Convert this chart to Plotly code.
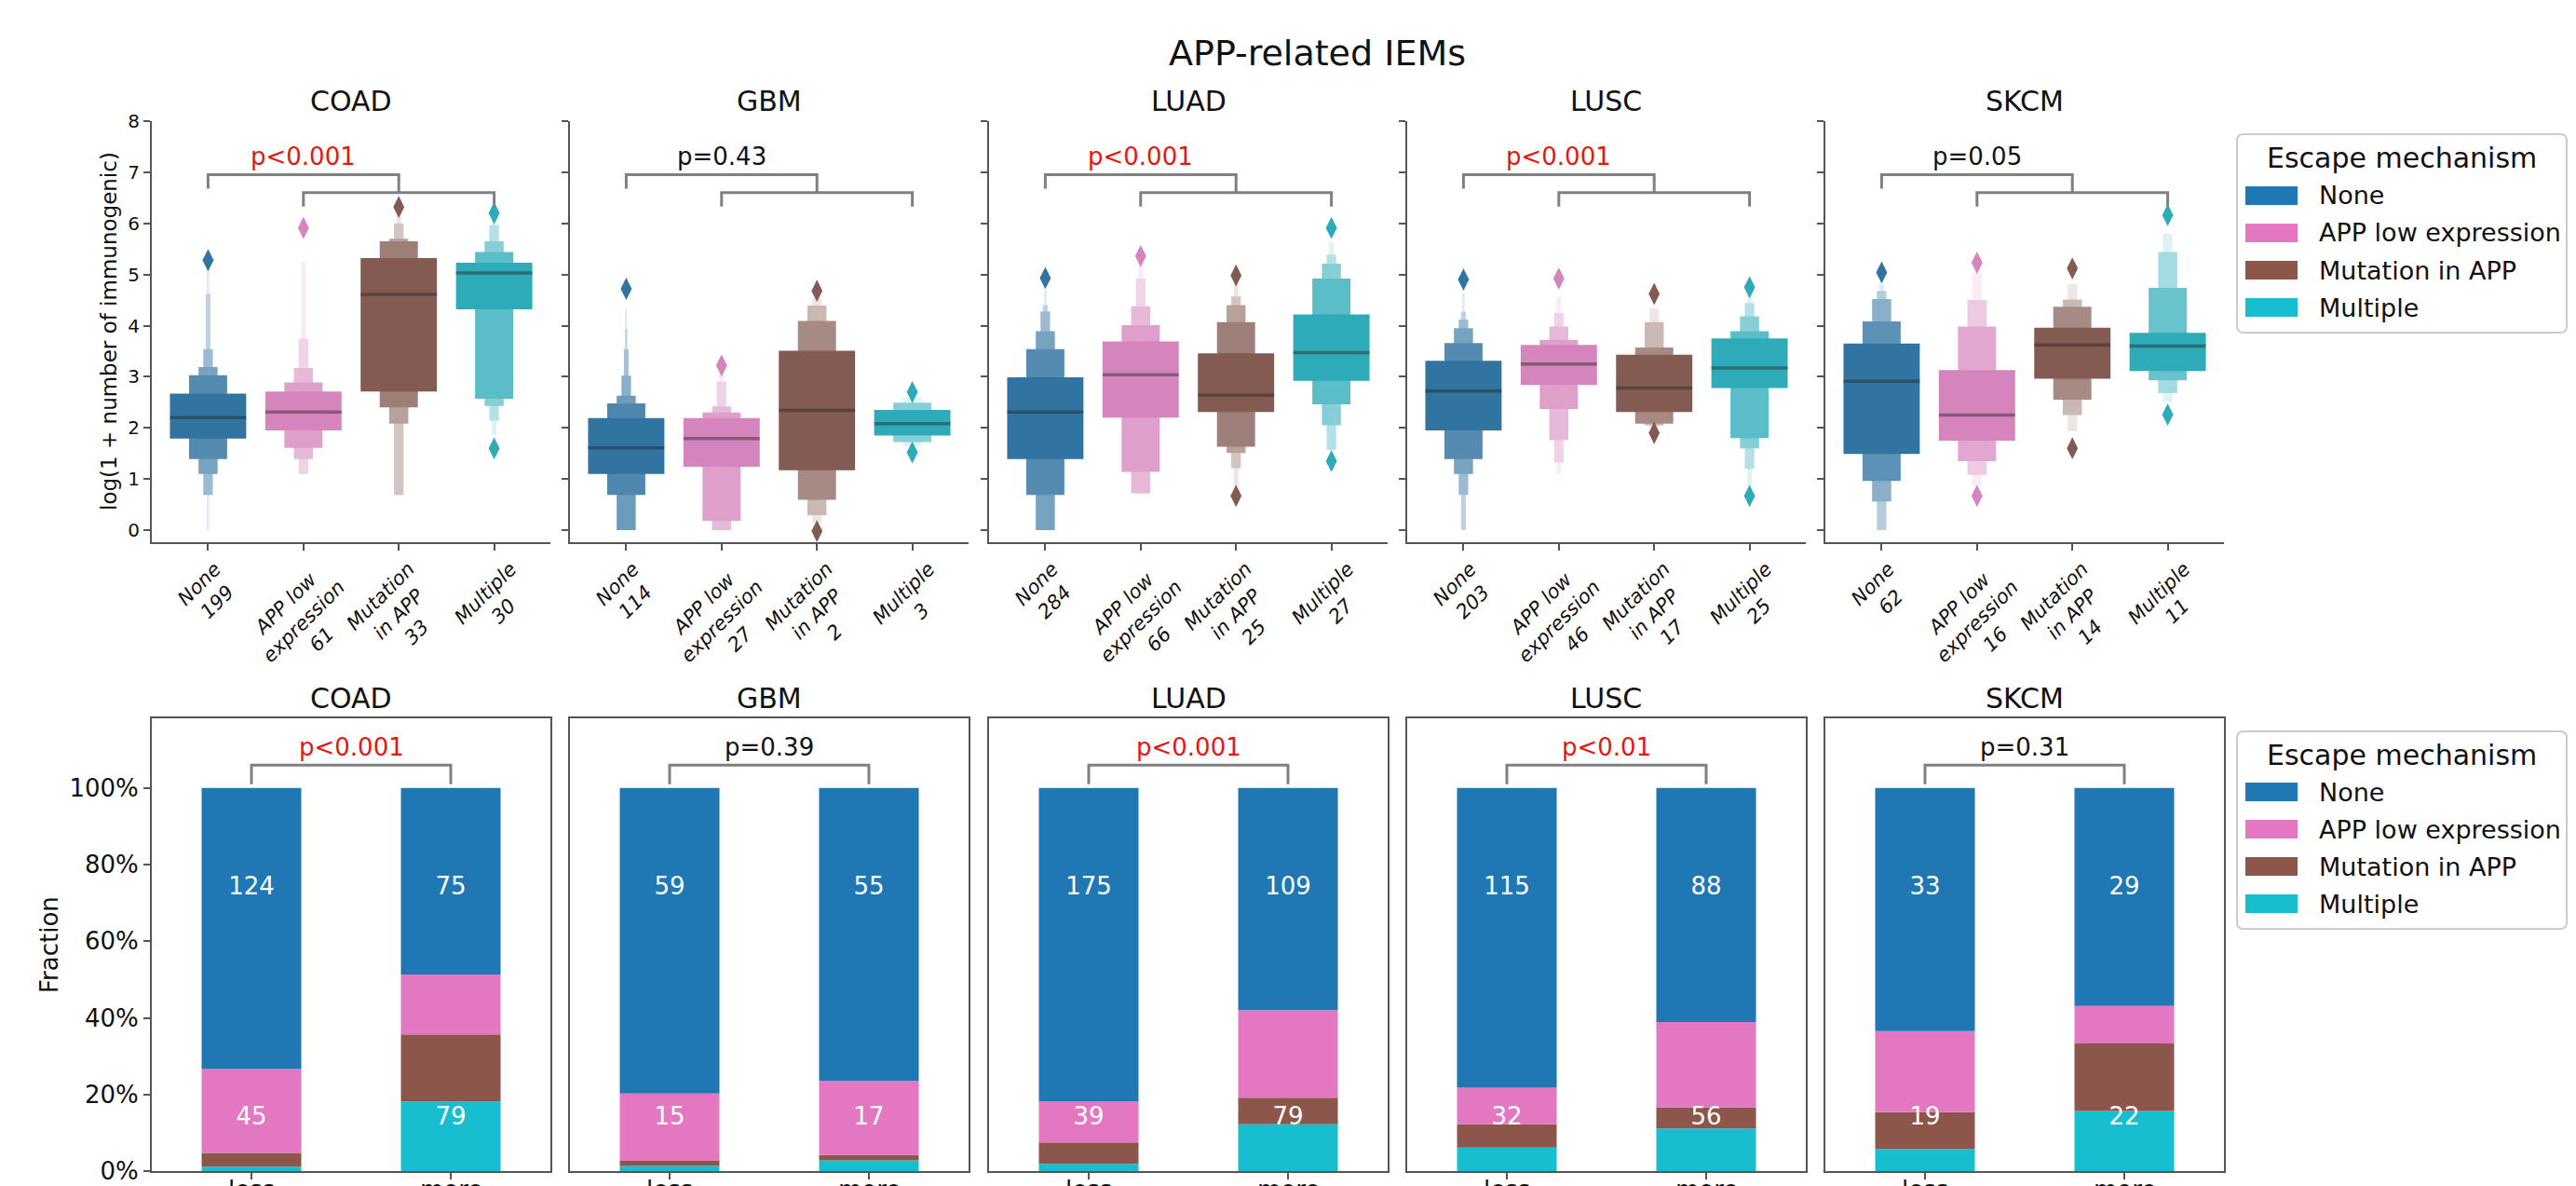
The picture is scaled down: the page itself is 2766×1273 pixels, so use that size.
import colorsys
import plotly.graph_objects as go

W, H = 2766, 1273

# ---------------- data ----------------
cancers = ["COAD", "GBM", "LUAD", "LUSC", "SKCM"]
mechanisms = ["None", "APP low expression", "Mutation in APP", "Multiple"]
mech_tick_names = ["None", "APP low<br>expression", "Mutation<br>in APP", "Multiple"]
base_colors = ["#1f77b4", "#e377c2", "#8c564b", "#17becf"]

# sample counts shown under the boxen plots
n_coad = [199, 61, 33, 30]
n_gbm = [114, 27, 2, 3]
n_luad = [284, 66, 25, 27]
n_lusc = [203, 46, 17, 25]
n_skcm = [62, 16, 14, 11]

# boxen (letter-value) plots: medians, nested (low, high) letter values from the
# quartiles outward, and outliers -- values of log(1 + number of immunogenic)
coad_median = [2.20, 2.31, 4.61, 5.03]
coad_levels = [
    [(1.79, 2.67), (1.39, 3.03), (1.10, 3.19), (0.69, 3.54), (0.69, 4.62), (0.00, 5.20)],
    [(1.95, 2.71), (1.61, 2.89), (1.39, 3.17), (1.10, 3.75), (1.10, 5.25)],
    [(2.71, 5.32), (2.40, 5.65), (2.08, 5.70), (0.69, 6.00), (0.69, 6.18)],
    [(4.32, 5.23), (2.57, 5.44), (2.43, 5.65), (2.14, 5.97), (1.87, 6.15)],
]
coad_outliers = [[5.28], [5.91], [6.32], [6.20, 1.60]]

gbm_median = [1.61, 1.79, 2.34, 2.08]
gbm_levels = [
    [(1.10, 2.19), (0.69, 2.48), (0.00, 2.63), (0.00, 3.02), (0.00, 3.54), (0.00, 3.93), (0.00, 4.33)],
    [(1.24, 2.19), (0.18, 2.30), (0.00, 2.42), (0.00, 2.90), (0.00, 3.05)],
    [(1.17, 3.51), (0.59, 4.09), (0.29, 4.39), (0.14, 4.54)],
    [(1.85, 2.35), (1.72, 2.49), (1.64, 2.60)],
]
gbm_outliers = [[4.72], [3.22], [4.68, -0.02], [2.70, 1.52]]

luad_median = [2.31, 3.04, 2.64, 3.47]
luad_levels = [
    [(1.39, 2.99), (0.69, 3.54), (0.00, 3.89), (0.00, 4.28), (0.00, 4.40), (0.00, 4.69)],
    [(2.20, 3.69), (1.14, 4.01), (0.72, 4.38), (0.72, 4.92), (0.72, 5.18)],
    [(2.31, 3.46), (1.63, 4.07), (1.51, 4.40), (1.21, 4.57), (0.87, 4.81)],
    [(2.92, 4.22), (2.46, 4.92), (2.05, 5.21), (1.57, 5.39), (1.57, 5.63)],
]
luad_outliers = [[4.93], [5.36], [4.98, 0.67], [5.91, 1.35]]

lusc_median = [2.72, 3.25, 2.78, 3.17]
lusc_levels = [
    [(1.95, 3.31), (1.39, 3.66), (1.10, 3.95), (0.69, 4.12), (0.00, 4.27), (0.00, 4.63)],
    [(2.84, 3.62), (2.37, 3.72), (1.76, 3.98), (1.32, 4.25), (1.10, 4.57)],
    [(2.31, 3.43), (2.08, 3.57), (2.05, 4.07), (2.00, 4.34)],
    [(2.78, 3.75), (1.80, 3.89), (1.60, 4.18), (1.20, 4.44), (0.87, 4.60)],
]
lusc_outliers = [[4.90], [4.92], [4.62, 1.90], [4.75, 0.67]]

skcm_median = [2.91, 2.25, 3.62, 3.60]
skcm_levels = [
    [(1.49, 3.65), (0.96, 4.08), (0.56, 4.52), (0.00, 4.68), (0.00, 4.81)],
    [(1.75, 3.13), (1.35, 3.98), (1.08, 4.50), (0.87, 5.04)],
    [(2.96, 3.96), (2.55, 4.37), (2.25, 4.51), (1.93, 4.81)],
    [(3.11, 3.86), (2.93, 4.74), (2.68, 5.44), (2.51, 5.80)],
]
skcm_outliers = [[5.04], [5.23, 0.67], [5.12, 1.60], [6.16, 2.26]]

p_top = ["p<0.001", "p=0.43", "p<0.001", "p<0.001", "p=0.05"]

# stacked bars: counts per mechanism [None, APP low, Mutation, Multiple]
groups = ["less", "more"]
coad_less, coad_more = [124, 37, 6, 2], [75, 24, 27, 28]
gbm_less, gbm_more = [59, 13, 1, 1], [55, 14, 1, 2]
luad_less, luad_more = [175, 23, 12, 4], [109, 43, 13, 23]
lusc_less, lusc_more = [115, 14, 9, 9], [88, 32, 8, 16]
skcm_less, skcm_more = [33, 11, 5, 3], [29, 5, 9, 8]

p_bottom = ["p<0.001", "p=0.39", "p<0.001", "p<0.01", "p=0.31"]

counts_top = [n_coad, n_gbm, n_luad, n_lusc, n_skcm]
medians = [coad_median, gbm_median, luad_median, lusc_median, skcm_median]
levels_all = [coad_levels, gbm_levels, luad_levels, lusc_levels, skcm_levels]
outliers_all = [coad_outliers, gbm_outliers, luad_outliers, lusc_outliers, skcm_outliers]
bars_all = [(coad_less, coad_more), (gbm_less, gbm_more), (luad_less, luad_more),
            (lusc_less, lusc_more), (skcm_less, skcm_more)]

# ---------------- styling helpers ----------------
FONT = "DejaVu Sans"
AXC = "#555555"
TXT = "#111111"


def hex_to_rgb(h):
    h = h.lstrip("#")
    return tuple(int(h[i:i + 2], 16) / 255 for i in (0, 2, 4))


def desaturate(h, prop=0.75):
    r, g, b = hex_to_rgb(h)
    hh, l, s = colorsys.rgb_to_hls(r, g, b)
    return colorsys.hls_to_rgb(hh, l, s * prop)


def to_css(rgb):
    return "rgb(%d,%d,%d)" % tuple(round(255 * c) for c in rgb)


def lighten(rgb, f):
    return tuple(c + (1 - c) * f for c in rgb)


desat = [desaturate(c) for c in base_colors]

# panel geometry (pixels)
lefts = [155, 604, 1054, 1503, 1952]
PW = 428
TOP_T, TOP_B = 122, 574
BOT_T, BOT_B = 763, 1249


def xp(px):
    return px / W


def yp(py):
    return 1 - py / H


fig = go.Figure()
layout = dict(
    width=W, height=H,
    margin=dict(l=0, r=0, t=0, b=0, pad=0, autoexpand=False),
    paper_bgcolor="white", plot_bgcolor="white",
    font=dict(family=FONT, color=TXT),
    barmode="overlay", showlegend=False,
)
annotations = []
shapes = []


def ann(**kw):
    d = dict(showarrow=False, xanchor="center", yanchor="middle")
    d.update(kw)
    annotations.append(d)


for p, cancer in enumerate(cancers):
    nt = p + 1
    nb = p + 6
    sx_t = "" if nt == 1 else str(nt)
    sx_b = str(nb)
    dom = [xp(lefts[p]), xp(lefts[p] + PW)]

    # ----- top row axes -----
    layout["xaxis" + sx_t] = dict(
        domain=dom, anchor="y" + sx_t, range=[-0.59, 3.59], automargin=False,
        tickvals=[0, 1, 2, 3], showticklabels=False, ticks="outside",
        ticklen=7, tickwidth=2, tickcolor=AXC, showline=True, linecolor=AXC,
        linewidth=2, showgrid=False, zeroline=False)
    layout["yaxis" + sx_t] = dict(
        domain=[yp(TOP_B), yp(TOP_T)], anchor="x" + sx_t, range=[-0.237, 8.0],
        automargin=False,
        tickvals=list(range(9)), showticklabels=(p == 0), ticks="outside",
        ticklen=7, tickwidth=2, tickcolor=AXC, showline=True, linecolor=AXC,
        linewidth=2, showgrid=False, zeroline=False, tickfont=dict(size=20))

    # boxen plots
    for c in range(4):
        lv = levels_all[p][c]
        k = len(lv)
        order = list(range(k - 1, -1, -1))  # outermost first, innermost on top
        xs = [c for _ in order]
        bases = [lv[i][0] for i in order]
        heights = [lv[i][1] - lv[i][0] for i in order]
        widths = [0.8 / 2 ** i for i in order]
        cols = [to_css(lighten(desat[c], 0.85 * i / (k - 1) if k > 1 else 0)) for i in order]
        fig.add_trace(go.Bar(
            x=xs, y=heights, base=bases, width=widths,
            marker=dict(color=cols, line=dict(width=0)),
            xaxis="x" + sx_t, yaxis="y" + sx_t, hoverinfo="skip"))
        m = medians[p][c]
        fig.add_trace(go.Scatter(
            x=[c - 0.4, c + 0.4], y=[m, m], mode="lines",
            line=dict(color="rgba(38,38,38,0.45)", width=3.5),
            xaxis="x" + sx_t, yaxis="y" + sx_t, hoverinfo="skip"))
        outs = outliers_all[p][c]
        fig.add_trace(go.Scatter(
            x=[c for _ in outs], y=outs, mode="markers",
            marker=dict(symbol="diamond-tall", size=17, color=to_css(desat[c]),
                        line=dict(width=0)),
            xaxis="x" + sx_t, yaxis="y" + sx_t, hoverinfo="skip"))
        # rotated category labels
        ann(x=c, y=0, xref="x" + sx_t, yref="y" + sx_t + " domain",
            text=mech_tick_names[c] + "<br>" + str(counts_top[p][c]),
            textangle=-45, yanchor="top", yshift=-14, align="center",
            font=dict(size=21, style="italic", color=TXT))

    # brackets (top)
    fig.add_trace(go.Scatter(x=[0, 0, 2, 2], y=[6.68, 6.95, 6.95, 6.60], mode="lines",
                             line=dict(color="#808080", width=3),
                             xaxis="x" + sx_t, yaxis="y" + sx_t, hoverinfo="skip"))
    fig.add_trace(go.Scatter(x=[1, 1, 3, 3], y=[6.33, 6.60, 6.60, 6.33], mode="lines",
                             line=dict(color="#808080", width=3),
                             xaxis="x" + sx_t, yaxis="y" + sx_t, hoverinfo="skip"))
    ann(x=1, y=7.3, xref="x" + sx_t, yref="y" + sx_t, text=p_top[p],
        font=dict(size=26, color="#e8150f" if p_top[p].startswith("p<") else TXT))

    # ----- bottom row axes -----
    layout["xaxis" + sx_b] = dict(
        domain=dom, anchor="y" + sx_b, range=[-0.5, 1.5], automargin=False,
        tickvals=[0, 1], showticklabels=False, ticks="outside", ticklen=7,
        tickwidth=2, tickcolor=AXC, showline=True, mirror=True, linecolor=AXC,
        linewidth=2, showgrid=False, zeroline=False)
    layout["yaxis" + sx_b] = dict(
        domain=[yp(BOT_B), yp(BOT_T)], anchor="x" + sx_b, range=[0, 1.182],
        automargin=False,
        tickvals=[0, 0.2, 0.4, 0.6, 0.8, 1.0],
        ticktext=["0%", "20%", "40%", "60%", "80%", "100%"],
        showticklabels=(p == 0), ticks="outside" if p == 0 else "",
        ticklen=7, tickwidth=2, tickcolor=AXC, showline=True, mirror=True,
        linecolor=AXC, linewidth=2, showgrid=False, zeroline=False,
        tickfont=dict(size=26))
    # group labels (partly below the picture edge, as in the original)
    for g_i, g in enumerate(groups):
        ann(x=g_i, y=0, xref="x" + sx_b, yref="y" + sx_b + " domain", text=g,
            yanchor="top", yshift=-3, font=dict(size=26))

    less, more = bars_all[p]
    tot = [sum(less), sum(more)]
    stack_order = [3, 2, 1, 0]  # Multiple at the bottom, None on top
    cum = [0.0, 0.0]
    for m_i in stack_order:
        fr = [less[m_i] / tot[0], more[m_i] / tot[1]]
        fig.add_trace(go.Bar(
            x=[0, 1], y=fr, base=list(cum), width=0.5,
            marker=dict(color=base_colors[m_i], line=dict(width=0)),
            xaxis="x" + sx_b, yaxis="y" + sx_b, hoverinfo="skip"))
        cum = [cum[0] + fr[0], cum[1] + fr[1]]
    # count labels
    fig.add_trace(go.Scatter(
        x=[0, 1, 0, 1], y=[0.737, 0.737, 0.137, 0.137], mode="text",
        text=[str(less[0]), str(more[0]), str(sum(less[1:])), str(sum(more[1:]))],
        textfont=dict(size=26, color="white"), textposition="middle center",
        xaxis="x" + sx_b, yaxis="y" + sx_b, hoverinfo="skip"))
    fig.add_trace(go.Scatter(x=[0, 0, 1, 1], y=[1.01, 1.06, 1.06, 1.01], mode="lines",
                             line=dict(color="#808080", width=3),
                             xaxis="x" + sx_b, yaxis="y" + sx_b, hoverinfo="skip"))
    ann(x=0.5, y=1.107, xref="x" + sx_b, yref="y" + sx_b, text=p_bottom[p],
        font=dict(size=26, color="#e8150f" if p_bottom[p].startswith("p<") else TXT))

    # panel titles
    cx = (dom[0] + dom[1]) / 2
    ann(x=cx, y=yp(100), xref="paper", yref="paper", text=cancer, font=dict(size=30))
    ann(x=cx, y=yp(741), xref="paper", yref="paper", text=cancer, font=dict(size=30))

# figure title and axis titles
ann(x=xp(1406), y=yp(49), xref="paper", yref="paper", text="APP-related IEMs",
    font=dict(size=38))
ann(x=xp(109), y=yp((TOP_T + TOP_B) / 2), xref="paper", yref="paper",
    text="log(1 + number of immunogenic)", textangle=-90, font=dict(size=23))
ann(x=xp(45), y=yp((BOT_T + BOT_B) / 2), xref="paper", yref="paper",
    text="Fraction", textangle=-90, font=dict(size=26))


# manual legends
def rounded_rect(x0p, y0p, x1p, y1p, r=7):
    x0, x1 = xp(x0p), xp(x1p)
    yb, yt = yp(y1p), yp(y0p)
    rx, ry = r / W, r / H
    return (f"M {x0 + rx},{yt} L {x1 - rx},{yt} Q {x1},{yt} {x1},{yt - ry} "
            f"L {x1},{yb + ry} Q {x1},{yb} {x1 - rx},{yb} L {x0 + rx},{yb} "
            f"Q {x0},{yb} {x0},{yb + ry} L {x0},{yt - ry} Q {x0},{yt} {x0 + rx},{yt} Z")


for top, title_y, rows in [(136, 162, [202, 242, 282, 322]), (777, 802, [842, 882, 922, 962])]:
    bottom = rows[-1] + 27
    shapes.append(dict(type="path", xref="paper", yref="paper",
                       path=rounded_rect(2394, top, 2748, bottom),
                       line=dict(color="#cccccc", width=2), fillcolor="white"))
    ann(x=xp(2571), y=yp(title_y), xref="paper", yref="paper",
        text="Escape mechanism", font=dict(size=30))
    for m_i, ry in enumerate(rows):
        shapes.append(dict(type="rect", xref="paper", yref="paper",
                           x0=xp(2403), x1=xp(2459), y0=yp(ry + 10), y1=yp(ry - 10),
                           fillcolor=base_colors[m_i], line=dict(width=0)))
        ann(x=xp(2480), y=yp(ry), xref="paper", yref="paper",
            text=mechanisms[m_i], font=dict(size=27), xanchor="left")

layout["annotations"] = annotations
layout["shapes"] = shapes
fig.update_layout(**layout)
fig.write_html("out.html")
